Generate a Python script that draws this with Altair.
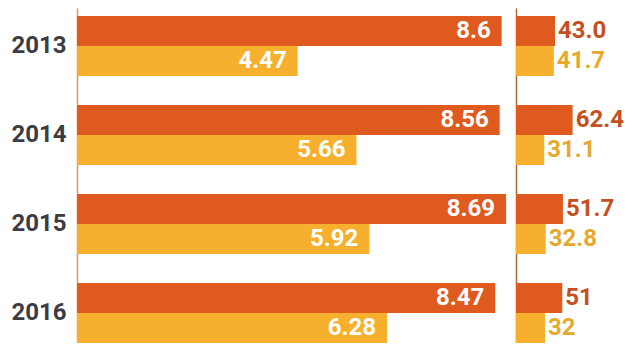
import altair as alt
import pandas as pd

years = ["2013", "2014", "2015", "2016"]
series = ["a", "b"]

left_a = [8.6, 8.56, 8.69, 8.47]
left_b = [4.47, 5.66, 5.92, 6.28]
left_a_labels = ["8.6", "8.56", "8.69", "8.47"]
left_b_labels = ["4.47", "5.66", "5.92", "6.28"]

right_a = [43.0, 62.4, 51.7, 51]
right_b = [41.7, 31.1, 32.8, 32]
right_a_labels = ["43.0", "62.4", "51.7", "51"]
right_b_labels = ["41.7", "31.1", "32.8", "32"]

bar_colors = ["#DF5A1E", "#F6B02E"]
label_colors = ["#C4501E", "#E5A92E"]
FONT = "Roboto, Liberation Sans, sans-serif"


def frame(a, b, la, lb):
    rows = []
    for i, y in enumerate(years):
        rows.append({"year": y, "series": "a", "value": a[i], "label": la[i]})
        rows.append({"year": y, "series": "b", "value": b[i], "label": lb[i]})
    return pd.DataFrame(rows)


df_left = frame(left_a, left_b, left_a_labels, left_b_labels)
df_right = frame(right_a, right_b, right_a_labels, right_b_labels)

yscale = alt.Scale(paddingInner=0.326, paddingOuter=0.045, align=1)
offscale = alt.Scale(paddingInner=0, paddingOuter=0)
noview = alt.ViewBackground(stroke="transparent", strokeWidth=0)


def base(df, xmax, axis):
    return alt.Chart(df).encode(
        y=alt.Y("year:N", sort=years, scale=yscale, axis=axis),
        yOffset=alt.YOffset("series:N", sort=series, scale=offscale),
        x=alt.X("value:Q", scale=alt.Scale(domain=[0, xmax], nice=False), axis=None),
    )


left_axis = alt.Axis(
    title=None, ticks=False, grid=False,
    labelFont=FONT, labelFontSize=24, labelFontWeight="bold",
    labelColor="#3C3C44", labelPadding=11,
    domainColor="#D89A55", domainWidth=1.5, minExtent=69,
)
lb = base(df_left, 8.85, left_axis)
left = (
    lb.mark_bar().encode(
        color=alt.Color("series:N", scale=alt.Scale(domain=series, range=bar_colors), legend=None)
    )
    + lb.mark_text(
        align="right", dx=-11, font=FONT, fontSize=24, fontWeight="bold", color="white"
    ).encode(text="label:N")
).properties(width=437, height=335, view=noview)

right_axis = alt.Axis(
    title=None, ticks=False, labels=False, grid=False,
    domainColor="#A8673F", domainWidth=1.5,
)
rb = base(df_right, 119, right_axis)
right = (
    rb.mark_bar().encode(
        color=alt.Color("series:N", scale=alt.Scale(domain=series, range=bar_colors), legend=None)
    )
    + rb.mark_text(
        align="left", dx=3, font=FONT, fontSize=24, fontWeight="bold"
    ).encode(
        text="label:N",
        color=alt.Color("series:N", scale=alt.Scale(domain=series, range=label_colors), legend=None),
    )
).resolve_scale(color="independent").properties(width=108, height=335, view=noview)

chart = (
    alt.hconcat(left, right, spacing=2)
    .properties(padding=0)
    .configure_view(strokeWidth=0, stroke="transparent")
    .configure(background="white")
)
chart.save("out.html", embed_options={"renderer": "svg", "actions": False})
